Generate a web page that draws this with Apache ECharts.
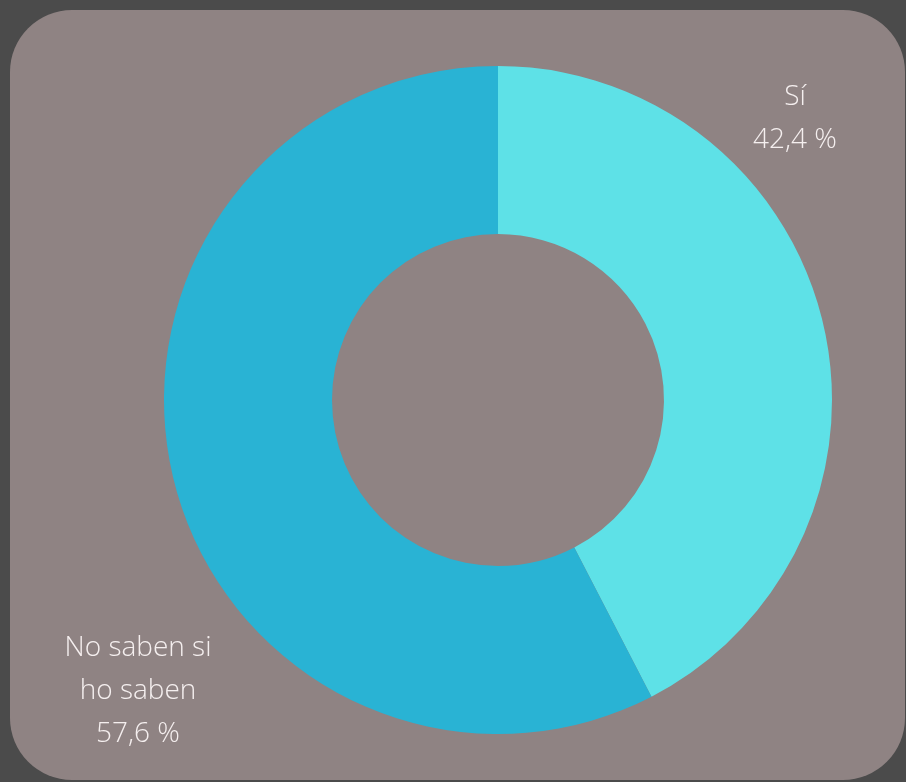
<!DOCTYPE html>
<html>
<head>
<meta charset="utf-8">
<script src="https://cdn.jsdelivr.net/npm/echarts@6/dist/echarts.min.js"></script>
<style>
  html, body { margin: 0; padding: 0; background: #4b4b4b; }
  #chart { width: 906px; height: 782px; }
</style>
</head>
<body>
<div id="chart"></div>
<script>
// datos de la encuesta
var categorias = ['Sí', 'No saben si\nho saben'];
var valores = [42.4, 57.6];
var colores = ['#5ee1e7', '#29b3d4'];
// posición de las etiquetas (centro del texto)
var etiquetaX = [795, 138];
var etiquetaY = [119, 691];

function formatoPct(v) {
    return v.toFixed(1).replace('.', ',') + ' %';
}

var datos = [];
for (var i = 0; i < categorias.length; i++) {
    datos.push({
        name: categorias[i],
        value: valores[i],
        itemStyle: { color: colores[i] }
    });
}

var myChart = echarts.init(document.getElementById('chart'));
myChart.setOption({
    backgroundColor: '#4b4b4b',
    animation: false,
    graphic: [{
        type: 'rect',
        z: -10,
        shape: { x: 10, y: 10, width: 895, height: 770, r: 62 },
        style: { fill: '#8f8383' }
    }],
    series: [{
        type: 'pie',
        center: [498, 400],
        radius: [166, 334],
        startAngle: 90,
        clockwise: true,
        data: datos,
        label: {
            show: true,
            position: 'outside',
            color: '#f5efef',
            fontFamily: 'Open Sans',
            fontWeight: 300,
            fontSize: 28,
            lineHeight: 43,
            align: 'center',
            overflow: 'none',
            width: 300,
            formatter: function (p) {
                return p.name + '\n' + formatoPct(p.value);
            }
        },
        labelLine: { show: false },
        labelLayout: function (p) {
            return {
                x: etiquetaX[p.dataIndex],
                y: etiquetaY[p.dataIndex],
                align: 'center',
                verticalAlign: 'middle'
            };
        },
        emphasis: { disabled: true }
    }]
});
</script>
</body>
</html>
